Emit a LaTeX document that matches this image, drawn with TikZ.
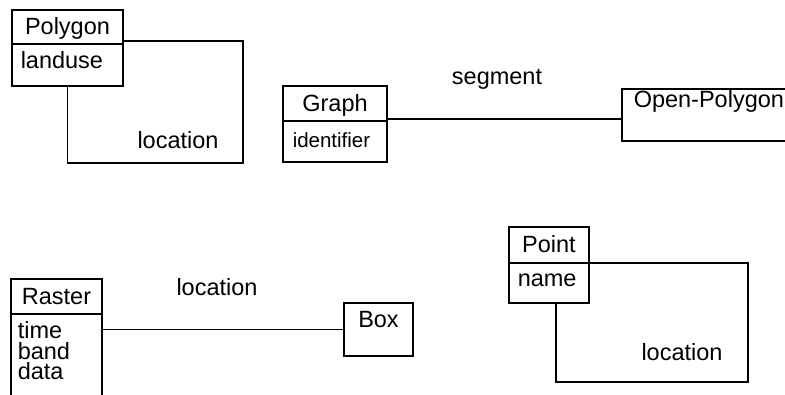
\documentclass[tikz,border=0pt]{standalone}
\usepackage{fontspec}
\setmainfont{Liberation Sans}
\begin{document}
\begin{tikzpicture}[x=1pt,y=-1pt,line width=1.5pt,
  every node/.style={font=\fontsize{23.5}{24}\selectfont},
  part/.style={draw,rectangle,inner sep=0pt,outer sep=0pt,anchor=north west,text height=16pt,text depth=1pt},
  attr/.style={anchor=base west,inner sep=0pt},
  lbl/.style={anchor=base,inner sep=0pt}]
\useasboundingbox (0,0) rectangle (785,394);
\clip (0,0) rectangle (785,394);
% Polygon
\node[part,minimum width=111pt,minimum height=34pt] (polyT) at (12,10) {Polygon};
\node[part,minimum width=111pt,minimum height=42pt] (polyB) at (polyT.south west) {};
\node[attr] (polyA) at (20,68) {landuse};
\coordinate (polyC) at (243,163);
\draw ([yshift=-14pt]polyT.east) -| (polyC) -| (polyB.south);
\node[lbl] (polyL) at (178,148) {location};
% Graph
\node[part,minimum width=104pt,minimum height=35pt] (graphT) at (283,86) {Graph};
\node[part,minimum width=104pt,minimum height=41pt] (graphB) at (graphT.south west) {};
\node[attr,font=\fontsize{20.5}{21}\selectfont] (graphA) at (292,147) {identifier};
\node[part,minimum width=180pt,minimum height=52pt] (op) at (622,89) {};
\node[attr] (opL) at (633,107) {Open-Polygon};
\draw ([yshift=2pt]graphT.south east) -- ([yshift=2pt]graphT.south east -| op.west);
\node[lbl] (segL) at (497,84) {segment};
% Raster
\node[part,minimum width=91pt,minimum height=35pt] (rasT) at (11,279) {Raster};
\node[part,minimum width=91pt,minimum height=90pt] (rasB) at (rasT.south west) {};
\node[anchor=north west,inner sep=0pt,align=left,font=\fontsize{23.5}{20.5}\selectfont] (rasA) at (17,321) {time\\band\\data};
\node[part,minimum width=69pt,minimum height=53pt] (box) at (344,303) {};
\node[lbl] (boxL) at (378.5,327) {Box};
\draw (rasB.east |- box.west) -- (box.west);
\node[lbl] (rasL) at (217,295) {location};
% Point
\node[part,minimum width=80pt,minimum height=36pt] (ptT) at (509,227) {Point};
\node[part,minimum width=80pt,minimum height=40pt] (ptB) at (ptT.south west) {};
\node[attr] (ptA) at (517,286) {name};
\coordinate (ptC) at (748,382);
\draw (ptT.south east) -| (ptC) -| ([xshift=7pt]ptB.south);
\node[lbl] (ptL) at (682,360) {location};
\end{tikzpicture}
\end{document}
